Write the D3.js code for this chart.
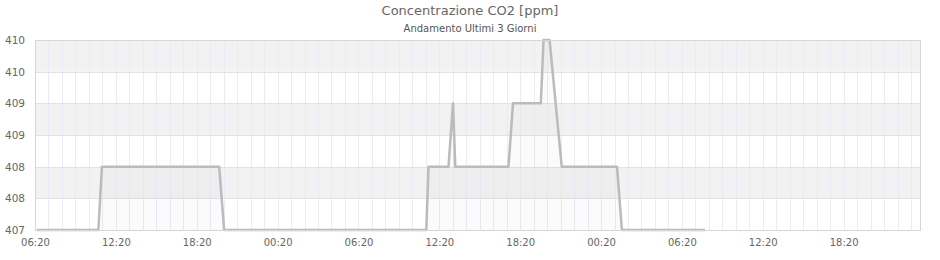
<!DOCTYPE html>
<html>
    <head>
        <meta charset="utf-8">
        <title>CO2</title>
        <script type="text/javascript" src="https://cdn.jsdelivr.net/npm/d3@7"></script>
        <style>
        body {
            margin: 0;
            background-color: #ffffff;
        }
        text {
            font-family: "DejaVu Sans", sans-serif;
        }
        </style>
    </head>
    <body>

    <div class="chart"></div>

    <script>
        // readings (time, ppm)
        var times = ['2021-03-10 06:28', '2021-03-10 11:02', '2021-03-10 11:18', '2021-03-10 20:00',
                     '2021-03-10 20:22', '2021-03-11 11:22', '2021-03-11 11:32', '2021-03-11 13:01',
                     '2021-03-11 13:21', '2021-03-11 13:31', '2021-03-11 17:28', '2021-03-11 17:48',
                     '2021-03-11 19:52', '2021-03-11 20:04', '2021-03-11 20:31', '2021-03-11 21:25',
                     '2021-03-12 01:31', '2021-03-12 01:53', '2021-03-12 08:04'];
        var ppm = [407, 407, 408, 408,
                   407, 407, 408, 408,
                   409, 408, 408, 409,
                   409, 410, 410, 408,
                   408, 407, 407];

        var x_start = '2021-03-10 06:20';
        var x_end = '2021-03-13 00:00';
        var y_ticks = [407, 407.5, 408, 408.5, 409, 409.5, 410];

        var parse = d3.timeParse('%Y-%m-%d %H:%M');
        var data = times.map(function(t, i) { return {t: parse(t), v: ppm[i]}; });

        var width = 940, height = 260;
        var plot_l = 35, plot_r = 920, plot_t = 40, plot_b = 230;

        var svg = d3.select('.chart')
            .append('svg')
            .attr('width', width)
            .attr('height', height);

        var x = d3.scaleTime()
            .domain([parse(x_start), parse(x_end)])
            .range([plot_l, plot_r]);

        var y = d3.scaleLinear()
            .domain([407, 410])
            .range([plot_b, plot_t]);

        // alternating bands
        for (var i = 0; i < y_ticks.length - 1; i++) {
            svg.append('rect')
                .attr('x', plot_l)
                .attr('y', y(y_ticks[i + 1]))
                .attr('width', plot_r - plot_l)
                .attr('height', y(y_ticks[i]) - y(y_ticks[i + 1]))
                .attr('fill', i % 2 == 0 ? '#ffffff' : '#f2f2f2');
        }

        // hourly grid
        var hours = d3.range(0, 66).map(function(h) { return d3.timeHour.offset(parse(x_start), h); })
            .filter(function(d) { return d <= parse(x_end); });
        svg.append('g')
            .selectAll('line')
            .data(hours)
            .join('line')
            .attr('x1', function(d) { return Math.round(x(d)) + 0.5; })
            .attr('x2', function(d) { return Math.round(x(d)) + 0.5; })
            .attr('y1', plot_t)
            .attr('y2', plot_b)
            .attr('stroke', '#eaeaf8')
            .attr('stroke-width', 1);

        svg.append('g')
            .selectAll('line')
            .data(y_ticks)
            .join('line')
            .attr('x1', plot_l)
            .attr('x2', plot_r)
            .attr('y1', function(d) { return Math.round(y(d)) + 0.5; })
            .attr('y2', function(d) { return Math.round(y(d)) + 0.5; })
            .attr('stroke', '#e2e2e2');

        // area + line
        var area = d3.area()
            .x(function(d) { return x(d.t); })
            .y0(plot_b)
            .y1(function(d) { return y(d.v); });
        svg.append('path')
            .datum(data)
            .attr('d', area)
            .attr('fill', '#000000')
            .attr('fill-opacity', 0.015);

        var line = d3.line()
            .x(function(d) { return x(d.t); })
            .y(function(d) { return y(d.v); });
        svg.append('path')
            .datum(data)
            .attr('d', line)
            .attr('fill', 'none')
            .attr('stroke', '#bbbbbb')
            .attr('stroke-width', 2.5)
            .attr('stroke-linejoin', 'round');

        // frame
        svg.append('rect')
            .attr('x', plot_l + 0.5)
            .attr('y', plot_t + 0.5)
            .attr('width', plot_r - plot_l)
            .attr('height', plot_b - plot_t)
            .attr('fill', 'none')
            .attr('stroke', '#d6d6d6');

        // axes
        var x_labels = hours.filter(function(d, i) { return i % 6 == 0; });
        var x_axis = svg.append('g')
            .attr('transform', 'translate(0,' + plot_b + ')')
            .call(d3.axisBottom(x).tickValues(x_labels).tickFormat(d3.timeFormat('%H:%M')).tickSize(0).tickPadding(9));
        x_axis.select('.domain').remove();
        x_axis.selectAll('text')
            .attr('font-family', '"DejaVu Sans", sans-serif')
            .attr('font-size', 10)
            .attr('fill', '#666666');

        var y_axis = svg.append('g')
            .attr('transform', 'translate(' + plot_l + ',0)')
            .call(d3.axisLeft(y).tickValues(y_ticks).tickFormat(function(d) { return Math.round(d); }).tickSize(0).tickPadding(10));
        y_axis.select('.domain').remove();
        y_axis.selectAll('text')
            .attr('font-family', '"DejaVu Sans", sans-serif')
            .attr('font-size', 10.5)
            .attr('fill', '#666666');

        // titles
        svg.append('text')
            .text('Concentrazione CO2 [ppm]')
            .attr('x', 470)
            .attr('y', 15)
            .attr('text-anchor', 'middle')
            .attr('font-size', 13)
            .attr('fill', '#666666');

        svg.append('text')
            .text('Andamento Ultimi 3 Giorni')
            .attr('x', 470)
            .attr('y', 32)
            .attr('text-anchor', 'middle')
            .attr('font-size', 10)
            .attr('fill', '#555555');
    </script>

    </body>
</html>
